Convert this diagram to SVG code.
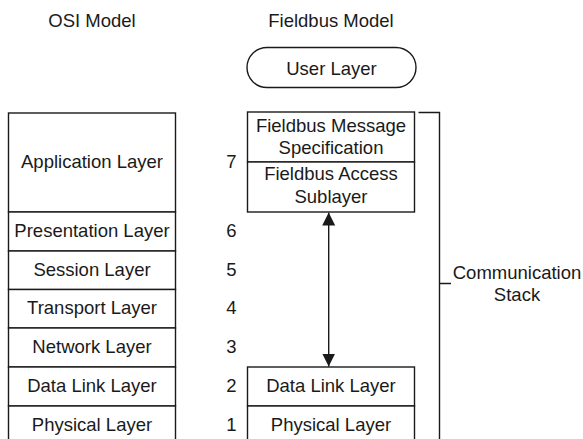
<svg xmlns="http://www.w3.org/2000/svg" width="583" height="439" viewBox="0 0 583 439">
<style>
text{font-family:"Liberation Sans",Arial,sans-serif;font-size:18.5px;fill:#1a1a1a;text-anchor:middle}
.b{fill:#fff;stroke:#1a1a1a;stroke-width:1.4}
.l{fill:none;stroke:#1a1a1a;stroke-width:1.4}
</style>
<defs>
<marker id="ah" viewBox="0 0 13 16" refX="13" refY="8" markerWidth="13" markerHeight="16" markerUnits="userSpaceOnUse" orient="auto">
<path d="M0,1.5 L13,8 L0,14.5 Z" fill="#1a1a1a"/>
</marker>
</defs>
<rect width="583" height="439" fill="#fff"/>
<text x="92" y="27">OSI Model</text>
<text x="331" y="27">Fieldbus Model</text>
<g id="osi">
<rect class="b" x="8.5" y="113" width="167" height="99"/>
<text x="92" y="168">Application Layer</text>
<rect class="b" x="8.5" y="212" width="167" height="39"/>
<text x="92" y="237">Presentation Layer</text>
<rect class="b" x="8.5" y="251" width="167" height="38.5"/>
<text x="92" y="276">Session Layer</text>
<rect class="b" x="8.5" y="289.5" width="167" height="38.5"/>
<text x="92" y="314">Transport Layer</text>
<rect class="b" x="8.5" y="328" width="167" height="39"/>
<text x="92" y="353">Network Layer</text>
<rect class="b" x="8.5" y="367" width="167" height="39"/>
<text x="92" y="392">Data Link Layer</text>
<rect class="b" x="8.5" y="406" width="167" height="40"/>
<text x="92" y="431">Physical Layer</text>
</g>
<g id="numbers">
<text x="231.5" y="168">7</text>
<text x="231.5" y="237">6</text>
<text x="231.5" y="276">5</text>
<text x="231.5" y="314">4</text>
<text x="231.5" y="353">3</text>
<text x="231.5" y="392">2</text>
<text x="231.5" y="431">1</text>
</g>
<g id="user-layer">
<rect class="b" x="247" y="47.5" width="169" height="40" rx="20" ry="20"/>
<text x="331.5" y="75">User Layer</text>
</g>
<g id="fms">
<rect class="b" x="247.5" y="112" width="167" height="50"/>
<text x="331" y="132">Fieldbus Message</text>
<text x="331" y="153.5">Specification</text>
</g>
<g id="fas">
<rect class="b" x="247.5" y="162" width="167" height="50"/>
<text x="331" y="180">Fieldbus Access</text>
<text x="331" y="203">Sublayer</text>
</g>
<g id="fb-datalink">
<rect class="b" x="247.5" y="367" width="167" height="39"/>
<text x="331" y="392">Data Link Layer</text>
</g>
<g id="fb-physical">
<rect class="b" x="247.5" y="406" width="167" height="40"/>
<text x="331" y="431">Physical Layer</text>
</g>
<g id="comm-stack">
<path class="l" d="M418.5,112.5 H439.5 V445 M439.5,283.5 H451"/>
<text x="517" y="279">Communication</text>
<text x="517" y="301">Stack</text>
</g>
<g id="connectors">
<line class="l" x1="328.7" y1="290" x2="328.7" y2="212.5" marker-end="url(#ah)"/>
<line class="l" x1="328.7" y1="290" x2="328.7" y2="366.5" marker-end="url(#ah)"/>
</g>
</svg>
